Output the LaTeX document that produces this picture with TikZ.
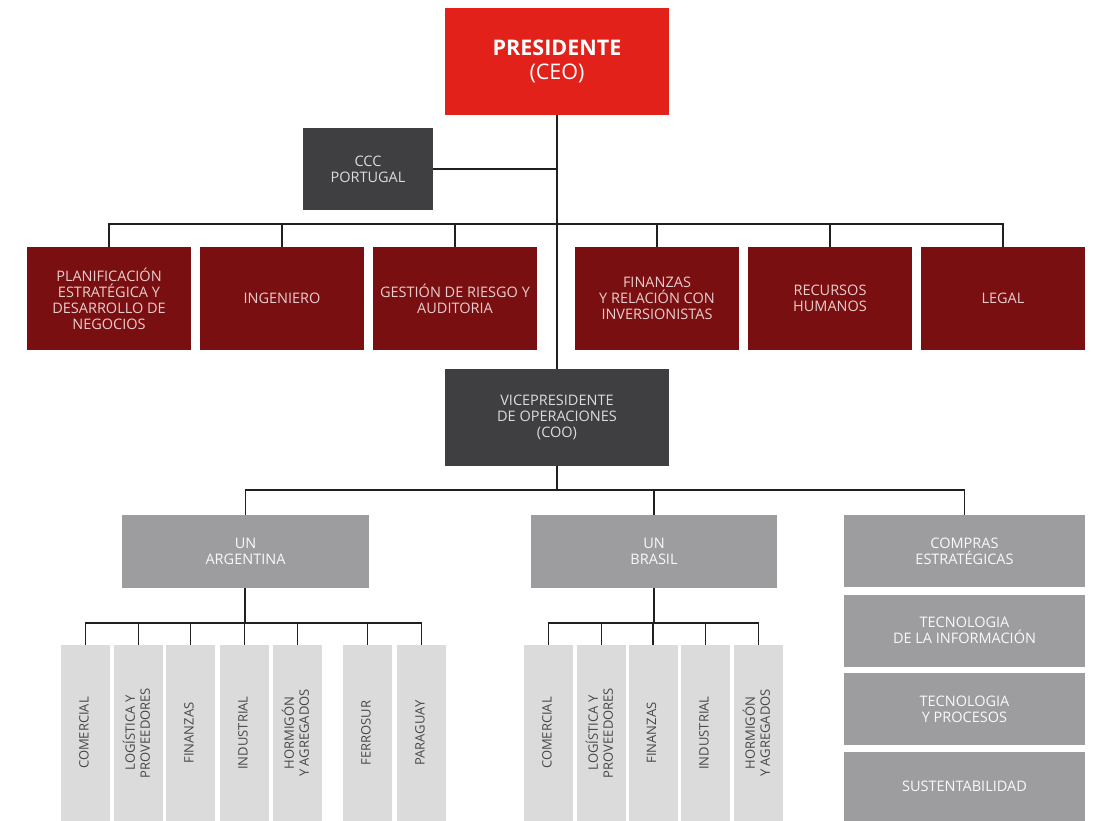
\documentclass[tikz,border=0pt]{standalone}
\usepackage{fontspec}
\setmainfont{Open Sans}
\definecolor{ceored}{HTML}{E3211B}
\definecolor{darkred}{HTML}{7A0F12}
\definecolor{darkgray}{HTML}{3F3F41}
\definecolor{midgray}{HTML}{9D9D9F}
\definecolor{lightgray}{HTML}{DBDBDC}
\definecolor{pinktext}{HTML}{E8CDCD}
\definecolor{linecol}{HTML}{231F20}
\newcommand{\vtext}[1]{\rotatebox{90}{\begin{tabular}{@{}c@{}}#1\end{tabular}}}
\begin{document}
\begin{tikzpicture}[x=1pt,y=-1pt,
  base/.style={inner sep=0pt, outer sep=0pt, align=center, font=\fontsize{14.5}{16}\selectfont},
  ceobox/.style={base, fill=ceored, text=white, minimum width=224, minimum height=107, font=\fontsize{21.5}{23.5}\selectfont},
  dgbox/.style={base, fill=darkgray, text=lightgray},
  drbox/.style={base, fill=darkred, text=pinktext, minimum width=164, minimum height=103},
  mgbox/.style={base, fill=midgray, text=white!94!midgray},
  lgbox/.style={base, fill=lightgray, text=black!72, minimum width=49, minimum height=176, font=\fontsize{13}{15}\selectfont},
  conn/.style={draw=linecol, line width=1.4pt}]
\useasboundingbox (0,0) rectangle (1093,821);
\fill[white] (0,0) rectangle (1093,821);

% top
\node[ceobox] (pres) at (557,61.5) {\bfseries PRESIDENTE\\(CEO)};
\node[dgbox, minimum width=130, minimum height=82] (ccc) at (368,169) {CCC\\PORTUGAL};

% staff
\node[drbox] (r1) at (109,298.5) {PLANIFICACIÓN\\ESTRATÉGICA Y\\DESARROLLO DE\\NEGOCIOS};
\node[drbox] (r2) at (282,298.5) {INGENIERO};
\node[drbox] (r3) at (455,298.5) {GESTIÓN DE RIESGO Y\\AUDITORIA};
\node[drbox] (r4) at (657,298.5) {FINANZAS\\Y RELACIÓN CON\\INVERSIONISTAS};
\node[drbox] (r5) at (830,298.5) {RECURSOS\\HUMANOS};
\node[drbox] (r6) at (1003,298.5) {LEGAL};

% COO
\node[dgbox, minimum width=224, minimum height=97] (vp) at (557,417.5) {VICEPRESIDENTE\\DE OPERACIONES\\(COO)};

% business units
\node[mgbox, minimum width=247, minimum height=73] (arg) at (245.5,551.5) {UN\\ARGENTINA};
\node[mgbox, minimum width=246, minimum height=73] (bra) at (654,551.5) {UN\\BRASIL};
\node[mgbox, minimum width=241, minimum height=72] (comp) at (964.5,551) {COMPRAS\\ESTRATÉGICAS};
\node[mgbox, minimum width=241, minimum height=72] (ti) at (964.5,630.5) {TECNOLOGIA\\DE LA INFORMACIÓN};
\node[mgbox, minimum width=241, minimum height=72] (tp) at (964.5,709) {TECNOLOGIA\\Y PROCESOS};
\node[mgbox, minimum width=241, minimum height=69] (sus) at (964.5,786.5) {SUSTENTABILIDAD};

% Argentina units
\node[lgbox] (a1) at (85.5,733) {\vtext{COMERCIAL}};
\node[lgbox] (a2) at (138.5,733) {\vtext{LOGÍSTICA Y\\PROVEEDORES}};
\node[lgbox] (a3) at (190.5,733) {\vtext{FINANZAS}};
\node[lgbox] (a4) at (244.5,733) {\vtext{INDUSTRIAL}};
\node[lgbox] (a5) at (297.5,733) {\vtext{HORMIGÓN\\Y AGREGADOS}};
\node[lgbox] (a6) at (367.5,733) {\vtext{FERROSUR}};
\node[lgbox] (a7) at (421.5,733) {\vtext{PARAGUAY}};

% Brasil units
\node[lgbox] (b1) at (548.5,733) {\vtext{COMERCIAL}};
\node[lgbox] (b2) at (601.5,733) {\vtext{LOGÍSTICA Y\\PROVEEDORES}};
\node[lgbox] (b3) at (653,733) {\vtext{FINANZAS}};
\node[lgbox] (b4) at (705.5,733) {\vtext{INDUSTRIAL}};
\node[lgbox] (b5) at (758.5,733) {\vtext{HORMIGÓN\\Y AGREGADOS}};

% connectors
\coordinate (bus1) at (557,224);
\coordinate (bus2) at (557,490);
\coordinate (busa) at (245,623);
\coordinate (busb) at (654,623);

\draw[conn] (pres.south) -- (vp.north);
\draw[conn] (ccc.east) -- (ccc.east -| pres.south);
\foreach \n in {r1,r2,r3,r4,r5,r6} \draw[conn] (bus1) -| (\n.north);
\draw[conn] (vp.south) -- (bus2);
\foreach \n in {arg,bra,comp} \draw[conn] (bus2) -| (\n.north);
\draw[conn] (arg.south -| busa) -- (busa);
\foreach \n in {a1,a2,a3,a4,a5,a6,a7} \draw[conn] (busa) -| (\n.north);
\draw[conn] (bra.south) -- (busb);
\foreach \n in {b1,b2,b3,b4,b5} \draw[conn] (busb) -| (\n.north);
\end{tikzpicture}
\end{document}
